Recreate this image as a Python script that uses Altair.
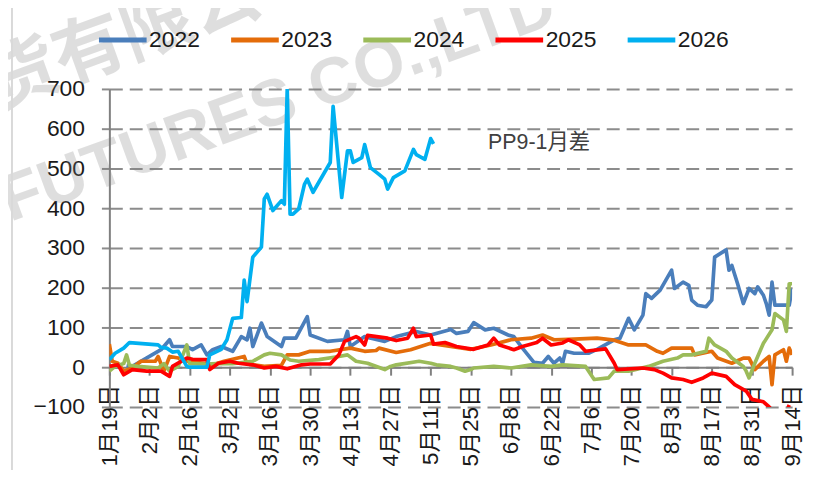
import altair as alt
import pandas as pd

YEARS = ["2022", "2023", "2024", "2025", "2026"]
COLORS = ["#4A7EBB", "#E46C0A", "#9BBB59", "#FF0000", "#00B0F0"]

# x = days after 1月19日, y = spread value
d2022 = [6, 8, 18, 21, 22, 27, 29, 32, 34, 36, 39, 43, 46, 48, 49, 50, 53, 55, 60, 61, 65, 69, 70, 76, 82, 83, 84, 89, 96,
         100, 107, 112, 119, 121, 125, 127, 131, 134, 139, 141, 144, 148, 151, 153, 155, 157, 158, 159, 162, 167, 170,
         176, 178, 181, 183, 186, 187, 189, 192, 194, 196, 197, 200, 202, 203, 205, 208, 210, 211, 215, 216, 217, 219,
         221, 223, 225, 226, 228, 229, 230, 231, 232, 237, 238]
v2022 = [5, 2, 44, 69, 52, 52, 44, 56, 31, 44, 52, 40, 77, 69, 98, 52, 111, 77, 52, 73, 73, 127, 81, 65, 69, 90, 52, 77, 65,
         77, 90, 81, 95, 85, 90, 112, 94, 98, 81, 77, 48, 12, 10, 27, 10, 23, 10, 40, 35, 35, 45,
         69, 73, 123, 94, 131, 185, 173, 194, 219, 244, 198, 214, 206, 169, 156, 152, 169, 277, 295, 244, 256, 210,
         160, 198, 185, 202, 181, 160, 131, 214, 156, 156, 198]

d2023 = [0, 1, 3, 5, 8, 11, 16, 17, 19, 21, 24, 27, 33, 36, 40, 47, 48, 54, 60, 62, 66, 70, 77, 84, 89, 93, 94, 100, 105,
         112, 119, 126, 133, 140, 147, 151, 155, 160, 170, 176, 181, 187, 191, 193, 196, 203, 204, 210, 212, 217, 221,
         223, 225, 228, 230, 231, 232, 235, 236, 237, 238]
v2023 = [58, 15, 10, -10, -2, 15, 15, 27, -10, 27, 23, 15, 10, 6, 15, 27, 8, 2, 5, 31, 31, 40, 40, 48, 40, 42, 48, 37, 44,
         60, 52, 45, 56, 69, 73, 81, 69, 70, 73, 68, 56, 56, 40, 35, 48, 48, 31, 40, 23, 10, 23,
         23, -6, 15, 27, -44, 31, 44, 15, 48, 31]

d2024 = [0, 2, 5, 6, 7, 10, 17, 19, 21, 24, 27, 28, 33, 38, 43, 50, 54, 56, 60, 63, 66, 73, 80, 83, 86, 90, 96, 98, 100,
         108, 112, 114, 119, 121, 124, 126, 127, 134, 140, 147, 154, 158, 166, 169, 174, 176, 181, 188, 193, 198, 200,
         203, 208, 209, 211, 215, 217, 221, 222, 223, 225, 228, 231, 232, 235, 236, 237, 238]
v2024 = [-10, 2, 9, 31, 5, 2, -2, 9, -10, 2, 56, 9, 8, 9, 9, 15, 31, 35, 31, 18, 15, 19, 27, 31, 15, 10, -6, 2, 6,
         15, 10, 6, 2, -2, -10, -6, -2, 2, -2, 6, 2, 6, 2, -31, -27, -10, -10, 2, 15, 23, 31,
         31, 40, 73, 56, 40, 23, 2, -10, -27, 10, 60, 94, 135, 119, 90, 210, 210]

d2025 = [0, 3, 5, 8, 13, 18, 21, 22, 27, 29, 34, 35, 38, 42, 45, 50, 54, 58, 62, 67, 70, 77, 80, 82, 86, 87, 89, 90, 97,
         100, 104, 106, 107, 112, 113, 117, 121, 127, 132, 134, 136, 141, 144, 149, 151, 154, 158, 160, 164, 166, 173,
         176, 177, 186, 190, 193, 196, 200, 203, 207, 210, 215, 218, 222, 224, 228, 230, 232, 234, 236, 237]
v2025 = [2, 6, -19, -6, -10, -10, -23, 2, 23, 20, 19, -6, 10, 15, 10, 6, -2, 2, -4, 6, 8, 8, 31, 65, 77, 73, 56, 80, 73,
         67, 73, 98, 77, 81, 58, 62, 52, 45, 56, 73, 56, 44, 52, 62, 73, 56, 61, 69, 56, 40, 46,
         10, -6, -2, -6, -15, -27, -31, -38, -27, -15, -23, -44, -60, -81, -87, -100, -115, -120, -112, -95]

d2026 = [0, 2, 5, 7, 17, 18, 20, 22, 24, 27, 28, 34, 35, 37, 39, 41, 43, 46, 47, 48, 50, 53, 54, 55, 57, 60, 61, 62, 63,
         64, 66, 68, 69, 71, 77, 78, 81, 83, 84, 85, 88, 89, 91, 94, 96, 97, 99, 103, 106, 107, 110, 112, 113]
v2026 = [19, 35, 48, 62, 56, 50, 48, 38, 40, 2, 0, 0, 31, 38, 45, 69, 123, 125, 219, 165, 277, 302, 423, 435, 394, 419,
         410, 700, 385, 385, 398, 460, 473, 440, 515, 656, 427, 544, 544, 515, 527, 560, 502, 485, 473, 448, 477, 494,
         548, 535, 523, 575, 562]

TICK_DAYS = list(range(0, 239, 14))
Y_TICKS = list(range(-100, 701, 100))
ANNOT_TEXT = "PP9-1月差"
ANNOT_DAY = 132
ANNOT_VAL = 563
WATERMARK_EN = "FUTURES CO.,LTD"
WATERMARK_CN = "货有限公司"

FONT = "Liberation Sans, Noto Sans CJK SC, sans-serif"
base = pd.Timestamp("2026-01-19")

rows = []
for yr, days, vals in zip(YEARS, [d2022, d2023, d2024, d2025, d2026], [v2022, v2023, v2024, v2025, v2026]):
    for d, v in zip(days, vals):
        rows.append({"date": base + pd.Timedelta(days=d), "value": v, "year": yr})
df = pd.DataFrame(rows)

tick_dates = [alt.DateTime(year=2026, month=(base + pd.Timedelta(days=d)).month,
                           date=(base + pd.Timedelta(days=d)).day) for d in TICK_DAYS]
end = base + pd.Timedelta(days=TICK_DAYS[-1])

x_enc = alt.X(
    "date:T",
    title=None,
    scale=alt.Scale(domain=[alt.DateTime(year=2026, month=1, date=19),
                            alt.DateTime(year=2026, month=end.month, date=end.day)]),
    axis=alt.Axis(values=tick_dates, format="%-m月%-d日", formatType="time", labelAngle=270,
                  offset=-40, grid=False, domainColor="#808080", domainWidth=2,
                  tickColor="#808080", tickSize=8, tickWidth=2, labelFontSize=22.5,
                  labelFont=FONT, labelColor="#1a1a1a", labelPadding=9, labelFlush=False,
                  labelOverlap=False, labelBound=False),
)
y_enc = alt.Y(
    "value:Q",
    title=None,
    scale=alt.Scale(domain=[-100, 700], nice=False, zero=False),
    axis=alt.Axis(values=Y_TICKS, grid=True, gridDash=[13, 7], gridColor="#8c8c8c", gridWidth=2,
                  domainColor="#808080", domainWidth=2, tickColor="#8c8c8c", tickSize=8, tickWidth=2,
                  labelFontSize=23, labelFont=FONT, labelColor="#1a1a1a", labelPadding=17,
                  labelOverlap=False, labelBound=False, labelFlush=False),
)
color_enc = alt.Color(
    "year:N",
    scale=alt.Scale(domain=YEARS, range=COLORS),
    legend=alt.Legend(title=None, orient="none", legendX=-13, legendY=-76, direction="horizontal",
                      symbolType="stroke", symbolSize=2300, symbolStrokeWidth=5, labelFontSize=23,
                      labelFont=FONT, labelColor="#1a1a1a", labelOffset=0, columnPadding=20, padding=0),
)

wm = alt.Chart(pd.DataFrame({"t": [WATERMARK_EN]})).mark_text(
    align="left", baseline="alphabetic", angle=340, fontSize=66, fontWeight="bold",
    font="Liberation Sans", color="#808080", opacity=0.25
).encode(text="t:N", x=alt.value(-100), y=alt.value(134))

wm2 = alt.Chart(pd.DataFrame({"t": [WATERMARK_CN]})).mark_text(
    align="center", baseline="middle", angle=340, fontSize=72, fontWeight="bold",
    font="Noto Sans CJK SC", color="#808080", opacity=0.25
).encode(text="t:N", x=alt.value(48), y=alt.value(-62))

edge = alt.Chart(pd.DataFrame({"a": [0]})).mark_rule(color="#d9d9d9", strokeWidth=2).encode(
    x=alt.value(-98), y=alt.value(-88), y2=alt.value(390))

layers = [wm, wm2, edge]
for yr in YEARS:
    layers.append(
        alt.Chart(df).transform_filter(alt.datum.year == yr)
        .mark_line(strokeWidth=3.7, clip=True, strokeJoin="round")
        .encode(x=x_enc, y=y_enc, color=color_enc)
    )

annot = alt.Chart(pd.DataFrame({"date": [base + pd.Timedelta(days=ANNOT_DAY)], "value": [ANNOT_VAL],
                                "t": [ANNOT_TEXT]})).mark_text(
    align="left", baseline="middle", fontSize=21.5, font=FONT, color="#404040"
).encode(x=x_enc, y=y_enc, text="t:N")
layers.append(annot)

chart = alt.layer(*layers).properties(
    width=687, height=320,
    autosize=alt.AutoSizeParams(type="none"),
    padding={"left": 102, "top": 80, "right": 16, "bottom": 62},
    background="white",
).configure_view(stroke=None).configure_axisY(labelOverlap=False)

chart.save("out.html", embed_options={"renderer": "svg", "actions": False})
